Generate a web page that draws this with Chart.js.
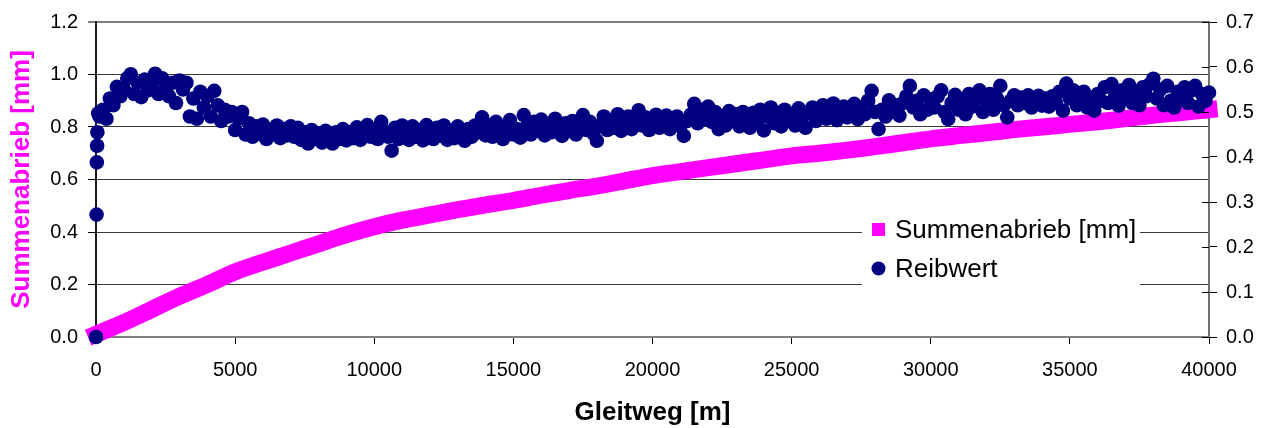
<!DOCTYPE html>
<html>
<head>
<meta charset="utf-8">
<script src="https://cdn.jsdelivr.net/npm/chart.js@4.4.1/dist/chart.umd.min.js"></script>
<style>
  html, body { margin: 0; padding: 0; background: #ffffff; }
  #wrap { width: 1265px; height: 428px; }
</style>
</head>
<body>
<div id="wrap"><canvas id="c" width="1265" height="428"></canvas></div>
<script>
// ---- data ----
const xTicks = [0, 5000, 10000, 15000, 20000, 25000, 30000, 35000, 40000];
const leftTicks = [0.0, 0.2, 0.4, 0.6, 0.8, 1.0, 1.2];
const rightTicks = [0.0, 0.1, 0.2, 0.3, 0.4, 0.5, 0.6, 0.7];

const gleitwegAbrieb = [0,1000,2000,3000,4000,5000,6000,7000,8000,9000,
  10000,11000,12000,13000,14000,15000,16000,17000,18000,19000,
  20000,21000,22000,23000,24000,25000,26000,27000,28000,29000,
  30000,31000,32000,33000,34000,35000,36000,37000,38000,39000,40000];
const summenabrieb = [0.01,0.055,0.105,0.155,0.20,0.248,0.285,0.32,0.355,0.39,
  0.42,0.445,0.465,0.485,0.503,0.52,0.54,0.558,0.575,0.595,
  0.615,0.63,0.645,0.66,0.675,0.69,0.70,0.712,0.725,0.74,
  0.755,0.767,0.778,0.79,0.80,0.81,0.82,0.832,0.845,0.855,0.866];

const gleitwegReib = [0,20,30,40,50,80,
  125,250,375,500,625,750,875,1000,
  1125,1250,1375,1500,1625,1750,1875,2000,
  2125,2250,2375,2500,2625,2750,2875,3000,
  3125,3250,3375,3500,3625,3750,3875,4000,
  4125,4250,4375,4500,4625,4750,4875,5000,
  5125,5250,5375,5500,5625,5750,5875,6000,
  6125,6250,6375,6500,6625,6750,6875,7000,
  7125,7250,7375,7500,7625,7750,7875,8000,
  8125,8250,8375,8500,8625,8750,8875,9000,
  9125,9250,9375,9500,9625,9750,9875,10000,
  10125,10250,10375,10500,10625,10750,10875,11000,
  11125,11250,11375,11500,11625,11750,11875,12000,
  12125,12250,12375,12500,12625,12750,12875,13000,
  13125,13250,13375,13500,13625,13750,13875,14000,
  14125,14250,14375,14500,14625,14750,14875,15000,
  15125,15250,15375,15500,15625,15750,15875,16000,
  16125,16250,16375,16500,16625,16750,16875,17000,
  17125,17250,17375,17500,17625,17750,17875,18000,
  18125,18250,18375,18500,18625,18750,18875,19000,
  19125,19250,19375,19500,19625,19750,19875,20000,
  20125,20250,20375,20500,20625,20750,20875,21000,
  21125,21250,21375,21500,21625,21750,21875,22000,
  22125,22250,22375,22500,22625,22750,22875,23000,
  23125,23250,23375,23500,23625,23750,23875,24000,
  24125,24250,24375,24500,24625,24750,24875,25000,
  25125,25250,25375,25500,25625,25750,25875,26000,
  26125,26250,26375,26500,26625,26750,26875,27000,
  27125,27250,27375,27500,27625,27750,27875,28000,
  28125,28250,28375,28500,28625,28750,28875,29000,
  29125,29250,29375,29500,29625,29750,29875,30000,
  30125,30250,30375,30500,30625,30750,30875,31000,
  31125,31250,31375,31500,31625,31750,31875,32000,
  32125,32250,32375,32500,32625,32750,32875,33000,
  33125,33250,33375,33500,33625,33750,33875,34000,
  34125,34250,34375,34500,34625,34750,34875,35000,
  35125,35250,35375,35500,35625,35750,35875,36000,
  36125,36250,36375,36500,36625,36750,36875,37000,
  37125,37250,37375,37500,37625,37750,37875,38000,
  38125,38250,38375,38500,38625,38750,38875,39000,
  39125,39250,39375,39500,39625,39750,39875,40000];
const reibwert = [0.0,0.272,0.388,0.425,0.455,0.497,
  0.49,0.505,0.485,0.53,0.515,0.556,0.535,0.55,
  0.575,0.584,0.54,0.565,0.533,0.572,0.548,0.56,
  0.585,0.54,0.575,0.553,0.535,0.565,0.52,0.57,
  0.55,0.565,0.49,0.53,0.485,0.545,0.51,0.535,
  0.49,0.547,0.515,0.48,0.505,0.49,0.5,0.46,
  0.485,0.5,0.45,0.475,0.445,0.468,0.452,0.472,
  0.44,0.46,0.45,0.47,0.442,0.462,0.448,0.468,
  0.445,0.465,0.438,0.455,0.43,0.46,0.44,0.452,
  0.432,0.458,0.445,0.43,0.455,0.44,0.462,0.437,
  0.455,0.442,0.466,0.438,0.452,0.471,0.445,0.46,
  0.44,0.478,0.455,0.445,0.414,0.465,0.44,0.47,
  0.45,0.438,0.468,0.445,0.46,0.437,0.471,0.45,
  0.44,0.465,0.448,0.47,0.438,0.456,0.442,0.468,
  0.45,0.436,0.462,0.445,0.47,0.455,0.488,0.448,
  0.47,0.445,0.478,0.455,0.44,0.468,0.482,0.45,
  0.462,0.443,0.493,0.47,0.45,0.478,0.458,0.483,
  0.448,0.47,0.455,0.485,0.462,0.447,0.475,0.458,
  0.48,0.45,0.468,0.493,0.46,0.478,0.452,0.436,
  0.47,0.49,0.46,0.482,0.465,0.495,0.458,0.478,
  0.49,0.462,0.48,0.504,0.47,0.488,0.46,0.484,
  0.494,0.465,0.48,0.492,0.462,0.478,0.49,0.468,
  0.447,0.48,0.494,0.518,0.475,0.505,0.485,0.512,
  0.478,0.5,0.462,0.49,0.47,0.502,0.48,0.495,
  0.468,0.5,0.485,0.465,0.498,0.478,0.505,0.459,
  0.49,0.51,0.475,0.498,0.468,0.505,0.482,0.495,
  0.47,0.508,0.488,0.465,0.5,0.51,0.48,0.497,
  0.515,0.485,0.505,0.519,0.482,0.5,0.512,0.488,
  0.505,0.518,0.484,0.51,0.495,0.525,0.547,0.5,
  0.462,0.505,0.49,0.526,0.5,0.515,0.492,0.52,
  0.535,0.558,0.51,0.525,0.495,0.537,0.505,0.528,
  0.51,0.535,0.548,0.5,0.484,0.52,0.538,0.505,
  0.525,0.495,0.54,0.512,0.53,0.548,0.5,0.522,
  0.54,0.505,0.53,0.558,0.515,0.488,0.525,0.537,
  0.515,0.532,0.52,0.537,0.51,0.528,0.536,0.514,
  0.53,0.512,0.535,0.52,0.545,0.503,0.563,0.53,
  0.548,0.515,0.535,0.545,0.51,0.53,0.503,0.54,
  0.525,0.555,0.52,0.562,0.535,0.514,0.548,0.53,
  0.56,0.52,0.545,0.515,0.555,0.535,0.562,0.574,
  0.53,0.55,0.515,0.558,0.525,0.51,0.545,0.53,
  0.555,0.52,0.548,0.558,0.512,0.54,0.525,0.543];

const labelAbrieb = 'Summenabrieb [mm]';
const labelReib = 'Reibwert';
const titleX = 'Gleitweg [m]';
const titleY = 'Summenabrieb [mm]';

const MAGENTA = '#FF00FF';
const NAVY = '#000080';
const FONT = '"Liberation Sans", Arial, sans-serif';

const near = (a, b) => Math.abs(a - b) < 1e-6;

const decor = {
  id: 'decor',
  afterDraw(chart) {
    const { ctx, chartArea, scales } = chart;
    const yr = scales.y2;
    ctx.save();
    // inner halves of the right-axis tick marks
    ctx.strokeStyle = '#000';
    ctx.lineWidth = 1;
    yr.ticks.forEach(t => {
      const py = Math.round(yr.getPixelForValue(t.value)) + 0.5;
      ctx.beginPath();
      ctx.moveTo(chartArea.right - 7, py);
      ctx.lineTo(chartArea.right, py);
      ctx.stroke();
    });
    // legend inside plot area
    const lx = chartArea.left + 766, ly = chartArea.top + 180;
    ctx.fillStyle = '#ffffff';
    ctx.fillRect(lx, ly, 278, 100);
    const dsA = chart.data.datasets[1], dsR = chart.data.datasets[0];
    ctx.fillStyle = dsA.borderColor;
    ctx.fillRect(lx + 10, ly + 21, 13, 13);
    ctx.fillStyle = dsR.pointBackgroundColor;
    ctx.beginPath();
    ctx.arc(lx + 16.5, ly + 66.5, 7, 0, Math.PI * 2);
    ctx.fill();
    ctx.fillStyle = '#000';
    ctx.font = '26px ' + FONT;
    ctx.textBaseline = 'middle';
    ctx.textAlign = 'left';
    ctx.fillText(dsA.label, lx + 33, ly + 29);
    ctx.fillText(dsR.label, lx + 33, ly + 68);
    ctx.restore();
  }
};

new Chart(document.getElementById('c'), {
  type: 'scatter',
  data: {
    datasets: [
      {
        label: labelReib,
        data: gleitwegReib.map((x, i) => ({ x: x, y: reibwert[i] })),
        yAxisID: 'y2',
        showLine: false,
        pointStyle: 'circle',
        pointRadius: 7.3,
        pointBackgroundColor: NAVY,
        pointBorderColor: NAVY,
        pointBorderWidth: 0,
        clip: false
      },
      {
        label: labelAbrieb,
        data: gleitwegAbrieb.map((x, i) => ({ x: x, y: summenabrieb[i] })),
        yAxisID: 'y',
        showLine: true,
        borderColor: MAGENTA,
        backgroundColor: MAGENTA,
        borderWidth: 17,
        borderCapStyle: 'square',
        borderJoinStyle: 'round',
        tension: 0.3,
        pointRadius: 0,
        pointStyle: 'rect',
        clip: false
      }
    ]
  },
  options: {
    responsive: false,
    animation: false,
    devicePixelRatio: 1,
    layout: { padding: { top: 21, left: 0, right: 0, bottom: 0 } },
    plugins: {
      legend: { display: false },
      tooltip: { enabled: false }
    },
    scales: {
      x: {
        type: 'linear',
        position: 'bottom',
        min: 0, max: 40000,
        afterBuildTicks: s => { s.ticks = xTicks.map(v => ({ value: v })); },
        ticks: {
          color: '#000',
          font: { family: FONT, size: 20 },
          padding: 14,
          maxRotation: 0,
          autoSkip: false,
          callback: v => String(v)
        },
        grid: { drawOnChartArea: false, drawTicks: true, tickLength: 7, tickColor: '#000', tickWidth: 1 },
        border: { display: true, color: '#808080', width: 2 },
        title: {
          display: true, text: titleX, color: '#000',
          font: { family: FONT, size: 26, weight: 'bold' },
          padding: { top: 0, bottom: 0 }
        },
        afterFit: s => { s.height = 91; }
      },
      y: {
        type: 'linear',
        position: 'left',
        min: 0, max: 1.2,
        afterBuildTicks: s => { s.ticks = leftTicks.map(v => ({ value: v })); },
        ticks: {
          color: '#000',
          font: { family: FONT, size: 20 },
          padding: 10,
          callback: v => Number(v).toFixed(1)
        },
        grid: {
          drawOnChartArea: true, drawTicks: true, tickLength: 8,
          color: c => (near(c.tick.value, 1.2) || near(c.tick.value, 0)) ? '#808080' : '#3a3a3a',
          lineWidth: c => (near(c.tick.value, 1.2) || near(c.tick.value, 0)) ? 2 : 1,
          tickColor: '#000', tickWidth: 1
        },
        border: { display: true, color: '#1a1a1a', width: 2 },
        title: {
          display: true, text: titleY, color: MAGENTA,
          font: { family: FONT, size: 26, weight: 'bold' },
          padding: { top: 6, bottom: 0 }
        },
        afterFit: s => { s.width = 96; }
      },
      y2: {
        type: 'linear',
        position: 'right',
        min: 0, max: 0.7,
        afterBuildTicks: s => { s.ticks = rightTicks.map(v => ({ value: v })); },
        ticks: {
          color: '#000',
          font: { family: FONT, size: 20 },
          padding: 9,
          callback: v => Number(v).toFixed(1)
        },
        grid: { drawOnChartArea: false, drawTicks: true, tickLength: 8, tickColor: '#000', tickWidth: 1 },
        border: { display: true, color: '#707070', width: 2 },
        afterFit: s => { s.width = 56; }
      }
    }
  },
  plugins: [decor]
});
</script>
</body>
</html>
